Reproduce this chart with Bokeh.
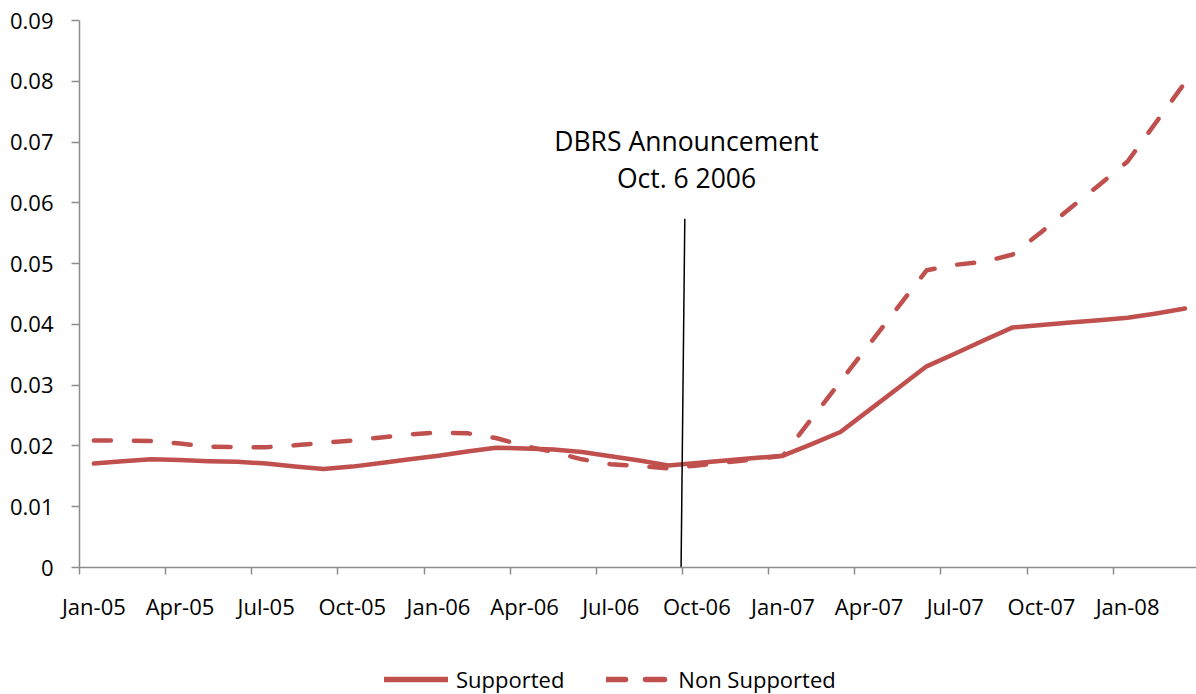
from bokeh.plotting import figure
from bokeh.layouts import column
from bokeh.models import (LinearAxis, FixedTicker, CustomJSTickFormatter, Legend,
                          LegendItem, Label, Range1d, ColumnDataSource)
from bokeh.embed import file_html
from bokeh.resources import INLINE

# ---------------- data ----------------
months = ["Jan-05", "Feb-05", "Mar-05", "Apr-05", "May-05", "Jun-05", "Jul-05", "Aug-05",
          "Sep-05", "Oct-05", "Nov-05", "Dec-05", "Jan-06", "Feb-06", "Mar-06", "Apr-06",
          "May-06", "Jun-06", "Jul-06", "Aug-06", "Sep-06", "Oct-06", "Nov-06", "Dec-06",
          "Jan-07", "Feb-07", "Mar-07", "Apr-07", "May-07", "Jun-07", "Jul-07", "Aug-07",
          "Sep-07", "Oct-07", "Nov-07", "Dec-07", "Jan-08", "Feb-08", "Mar-08"]

supported = [0.0171, 0.0175, 0.0178, 0.0177, 0.0175, 0.0174, 0.0171, 0.0166, 0.0162,
             0.0166, 0.0172, 0.0178, 0.0184, 0.0191, 0.0197, 0.0196, 0.0194, 0.0190,
             0.0183, 0.0176, 0.0168, 0.0172, 0.0176, 0.0180, 0.0184, 0.0203, 0.0223,
             0.0259, 0.0295, 0.0331, 0.0352, 0.0374, 0.0395, 0.0399, 0.0403, 0.0407,
             0.0411, 0.0418, 0.0426]

non_supported = [0.0209, 0.0209, 0.0208, 0.0204, 0.0199, 0.0198, 0.0198, 0.0201, 0.0205,
                 0.0209, 0.0214, 0.0219, 0.0222, 0.0221, 0.0213, 0.0200, 0.0190, 0.0178,
                 0.0170, 0.0167, 0.0163, 0.0168, 0.0173, 0.0178, 0.0184, 0.0245, 0.0306,
                 0.0367, 0.0428, 0.0489, 0.0498, 0.0503, 0.0515, 0.0552, 0.0591, 0.0629,
                 0.0668, 0.0733, 0.0798]

series_names = ["Supported", "Non Supported"]
y_ticks = [0, 0.01, 0.02, 0.03, 0.04, 0.05, 0.06, 0.07, 0.08, 0.09]
label_every = 3

event_text = ["DBRS Announcement", "Oct. 6 2006"]
event_x_top, event_x_bottom = 21.08, 20.95      # month-index position of the marker
event_y_top = 0.0574
event_text_x = 21.14
event_text_y = [0.0702, 0.0641]

# ---------------- style ----------------
RED = "#C0504D"
AXIS = "#8C8C8C"
FONT = "Open Sans"
TICK_FS = "22px"
W = 1196
H_MAIN = 627
H_LEG = 67

x = [i + 0.5 for i in range(len(months))]
src = ColumnDataSource(dict(x=x, month=months, sup=supported, non=non_supported))

p = figure(width=W, height=H_MAIN, x_range=Range1d(0, 38.9), y_range=Range1d(0, 0.09),
           output_backend="svg", toolbar_location=None,
           x_axis_type=None, y_axis_type=None,
           min_border_left=79, min_border_right=0, min_border_top=20, min_border_bottom=60)
p.outline_line_color = None
p.background_fill_color = "white"
p.border_fill_color = "white"

# y axis
yaxis = LinearAxis(ticker=FixedTicker(ticks=y_ticks),
                   formatter=CustomJSTickFormatter(code="return tick == 0 ? '0' : tick.toFixed(2);"))
yaxis.axis_line_color = AXIS
yaxis.axis_line_width = 1.5
yaxis.major_tick_line_color = AXIS
yaxis.major_tick_line_width = 1.5
yaxis.major_tick_out = 8
yaxis.major_tick_in = 0
yaxis.minor_tick_line_color = None
yaxis.major_label_standoff = 18
yaxis.major_label_text_font = FONT
yaxis.major_label_text_font_size = TICK_FS
yaxis.major_label_text_color = "black"
p.add_layout(yaxis, "left")

# x axis: tick marks at quarter boundaries
boundary_ticks = [i for i in range(0, len(months) + 1, label_every)]
xtick_axis = LinearAxis(ticker=FixedTicker(ticks=boundary_ticks),
                        formatter=CustomJSTickFormatter(code="return '';"))
xtick_axis.axis_line_color = AXIS
xtick_axis.axis_line_width = 1.5
xtick_axis.major_tick_line_color = AXIS
xtick_axis.major_tick_line_width = 1.5
xtick_axis.major_tick_out = 7
xtick_axis.major_tick_in = 0
xtick_axis.minor_tick_line_color = None
xtick_axis.major_label_standoff = 0
xtick_axis.major_label_text_font_size = "1px"
p.add_layout(xtick_axis, "below")

# x axis: labels centred on categories
center_ticks = [i + 0.5 for i in range(0, len(months), label_every)]
xlab_axis = LinearAxis(ticker=FixedTicker(ticks=center_ticks),
                       formatter=CustomJSTickFormatter(args=dict(months=months),
                                                       code="return months[Math.floor(tick)];"))
xlab_axis.axis_line_color = None
xlab_axis.major_tick_line_color = None
xlab_axis.minor_tick_line_color = None
xlab_axis.major_tick_out = 0
xlab_axis.major_tick_in = 0
xlab_axis.major_label_standoff = 16
xlab_axis.major_label_text_font = FONT
xlab_axis.major_label_text_font_size = TICK_FS
xlab_axis.major_label_text_color = "black"
p.add_layout(xlab_axis, "below")

# lines
line_kw = dict(line_color=RED, line_width=4.5, line_cap="round", line_join="round")
dash = "17 23"
r1 = p.line("x", "sup", source=src, **line_kw)
r2 = p.line("x", "non", source=src, line_dash=dash, **line_kw)

# announcement marker
p.segment(x0=[event_x_top], y0=[event_y_top], x1=[event_x_bottom], y1=[0],
          line_color="black", line_width=1.5)
for t, yy in zip(event_text, event_text_y):
    p.add_layout(Label(x=event_text_x, y=yy, text=t, text_align="center",
                       text_baseline="alphabetic", text_font=FONT,
                       text_font_size="26.5px", text_color="black"))

# ---------------- legend strip (same series, plotted out of view) ----------------
leg_kw = dict(line_color=RED, line_width=5.5, line_cap="round", line_join="round")
lf = figure(width=W, height=H_LEG, x_range=Range1d(0, 38.9), y_range=Range1d(1, 2),
            output_backend="svg", toolbar_location=None,
            x_axis_type=None, y_axis_type=None,
            min_border_left=0, min_border_right=0, min_border_top=0, min_border_bottom=0)
lf.outline_line_color = None
lr1 = lf.line("x", "sup", source=src, **leg_kw)
lr2 = lf.line("x", "non", source=src, line_dash="19 20", **leg_kw)

legend = Legend(items=[LegendItem(label=series_names[0], renderers=[lr1]),
                       LegendItem(label=series_names[1], renderers=[lr2])],
                orientation="horizontal", location=(305, 0))
legend.border_line_color = None
legend.background_fill_alpha = 0
legend.label_text_font = FONT
legend.label_text_font_size = TICK_FS
legend.label_text_color = "black"
legend.glyph_width = 64
legend.spacing = 42
legend.label_standoff = 8
legend.padding = 0
legend.margin = 0
lf.add_layout(legend, "center")

open("out.html", "w").write(file_html(column(p, lf, spacing=0), INLINE))
